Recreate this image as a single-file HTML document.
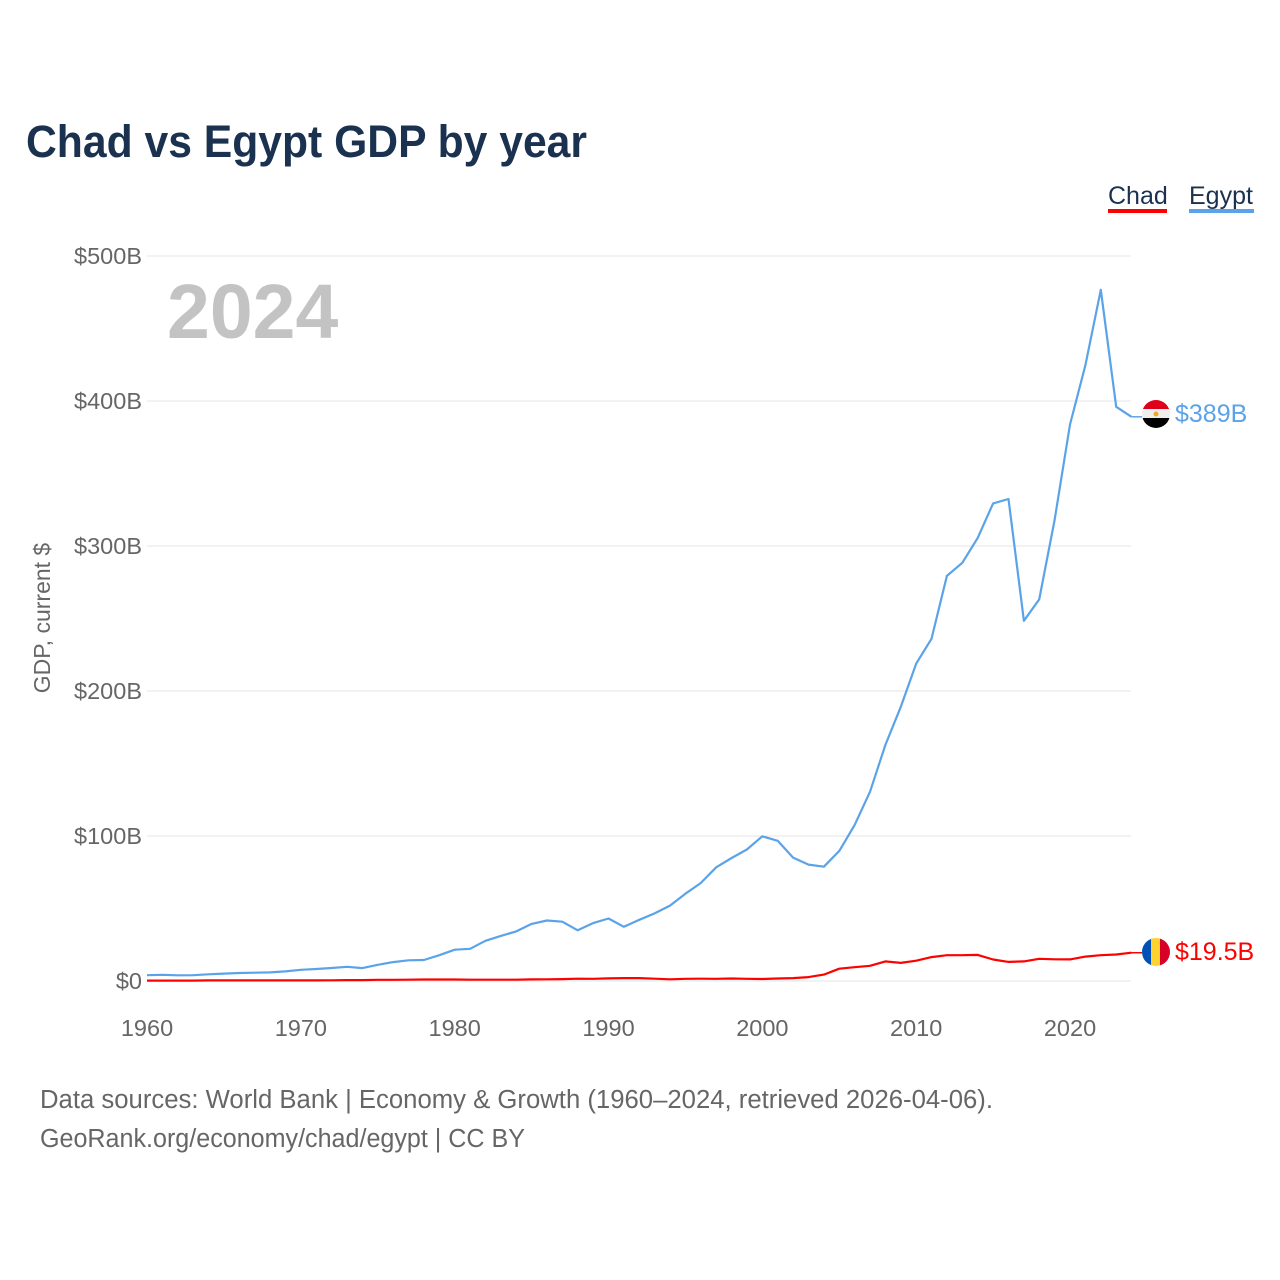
<!DOCTYPE html>
<html><head><meta charset="utf-8"><style>
body{margin:0;background:#fff;font-family:"Liberation Sans",sans-serif}
svg{display:block}
</style></head><body>
<svg id="chart" width="1280" height="1280" viewBox="0 0 1280 1280">
<text x="26" y="157" font-size="45" font-weight="bold" fill="#1b3150" textLength="561" lengthAdjust="spacingAndGlyphs">Chad vs Egypt GDP by year</text>
<g><text x="1108" y="204" font-size="25" fill="#1b3150">Chad</text><rect x="1108" y="209" width="59" height="4" fill="#ff0000"/></g>
<g><text x="1189" y="204" font-size="25" fill="#1b3150">Egypt</text><rect x="1189" y="209" width="65" height="4" fill="#5ba3e8"/></g>
<g id="grid"></g>
<text x="167" y="338" font-size="77" font-weight="bold" fill="#c3c3c3">2024</text>
<text transform="translate(50,618) rotate(-90)" text-anchor="middle" font-size="23" fill="#666">GDP, current $</text>
<g id="series"></g>
<g>
<clipPath id="ce"><circle cx="1156" cy="414" r="14"/></clipPath>
<g clip-path="url(#ce)"><rect x="1142" y="400" width="28" height="10" fill="#e0001b"/><rect x="1142" y="409" width="28" height="10" fill="#eee"/><rect x="1142" y="418" width="28" height="10" fill="#000"/><circle cx="1156" cy="414" r="2.5" fill="#f5a623"/></g></g>
<g>
<clipPath id="cc"><circle cx="1156" cy="952" r="14"/></clipPath>
<g clip-path="url(#cc)"><rect x="1142" y="938" width="10" height="28" fill="#0050b5"/><rect x="1151" y="938" width="10" height="28" fill="#fed330"/><rect x="1160" y="938" width="10" height="28" fill="#d80027"/></g></g>
<text x="1175" y="422" font-size="25" fill="#5ba3e8">$389B</text>
<text x="1175" y="960" font-size="25" fill="#ff0000">$19.5B</text>
<text x="40" y="1108" font-size="25.5" fill="#666" textLength="953" lengthAdjust="spacingAndGlyphs">Data sources: World Bank | Economy &amp; Growth (1960–2024, retrieved 2026-04-06).</text>
<text x="40" y="1147" font-size="25.5" fill="#666" textLength="485" lengthAdjust="spacingAndGlyphs">GeoRank.org/economy/chad/egypt | CC BY</text>
</svg>
<script>
const years=[];for(let y=1960;y<=2024;y++)years.push(y);
const egypt=[4.0,4.3,3.9,4.0,4.6,5.1,5.5,5.7,5.9,6.6,7.7,8.3,9.0,9.8,8.9,11.2,13.0,14.3,14.5,17.8,21.6,22.2,27.7,31.1,34.2,39.4,41.7,40.9,35.0,39.9,43.1,37.4,42.2,46.6,52.0,60.2,67.6,78.4,84.8,90.7,99.8,96.7,85.1,80.3,78.8,89.7,107.5,130.5,162.8,189.1,218.9,236.0,279.4,288.4,305.6,329.4,332.4,248.4,263.2,317.9,383.8,424.7,476.7,396.0,389.1];
const chad=[0.3,0.3,0.3,0.3,0.4,0.4,0.4,0.4,0.4,0.4,0.4,0.4,0.5,0.6,0.6,0.8,0.8,0.9,1.0,1.0,1.0,0.9,0.9,0.9,0.9,1.1,1.2,1.3,1.6,1.5,1.8,2.0,2.0,1.6,1.2,1.5,1.6,1.5,1.7,1.5,1.4,1.7,2.0,2.7,4.4,8.5,9.5,10.5,13.5,12.5,14.0,16.5,17.8,17.8,18.0,14.8,13.2,13.5,15.3,15.0,14.9,16.8,17.8,18.3,19.5];
const yTicks=[0,100,200,300,400,500];
const yTickLabels=["$0","$100B","$200B","$300B","$400B","$500B"];
const xTicks=[1960,1970,1980,1990,2000,2010,2020];
const NS="http://www.w3.org/2000/svg";
const X=y=>147+(y-1960)*(923/60);
const Y=v=>981-v*1.45;
const grid=document.getElementById('grid'),ser=document.getElementById('series');
function mk(tag,attrs,parent){const e=document.createElementNS(NS,tag);for(const k in attrs)e.setAttribute(k,attrs[k]);parent.appendChild(e);return e;}
yTicks.forEach((t,i)=>{
 const l=mk('line',{x1:147,x2:1131,y1:Y(t),y2:Y(t),stroke:'#e6e6e6','stroke-width':1},grid);
 
 
 const tx=mk('text',{x:142,y:Y(t)+8,'text-anchor':'end','font-size':23.5,fill:'#666'},grid);
 tx.textContent=yTickLabels[i];
 
 
});
xTicks.forEach(t=>{
 const tx=mk('text',{x:X(t),y:1036,'text-anchor':'middle','font-size':23.5,fill:'#666'},grid);
 tx.textContent=t;
 
 
});
function line(d,c,name){
 const p=mk('path',{d:d.map((v,i)=>(i?'L':'M')+X(years[i]).toFixed(1)+','+Y(v).toFixed(1)).join(''),fill:'none',stroke:c,'stroke-width':2.2,'stroke-linejoin':'round'},ser);
 
 
 const last=d[d.length-1];
 mk('line',{x1:X(2024),x2:1142,y1:Y(last),y2:Y(last),stroke:c,'stroke-width':1.5},ser);
}
line(egypt,'#5ba3e8','egypt-line');
line(chad,'#ff0000','chad-line');
</script>
</body></html>
